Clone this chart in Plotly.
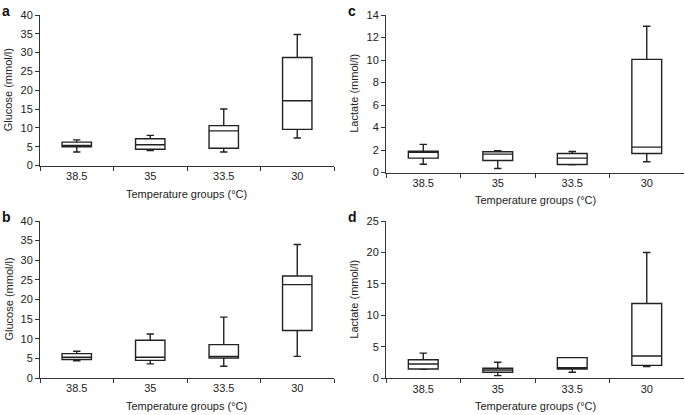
import plotly.graph_objects as go

W, H = 685, 415

groups = ["38.5", "35", "33.5", "30"]

# Panel a: Glucose
a_low = [3.6, 4.0, 3.6, 7.3]
a_q1 = [5.0, 4.3, 4.6, 9.6]
a_med = [5.3, 5.5, 9.2, 17.2]
a_q3 = [6.2, 7.1, 10.6, 28.7]
a_high = [6.8, 8.0, 15.0, 34.8]

# Panel b: Glucose
b_low = [4.4, 3.6, 3.0, 5.5]
b_q1 = [4.7, 4.5, 5.1, 12.1]
b_med = [5.3, 5.3, 5.5, 23.8]
b_q3 = [6.2, 9.6, 8.5, 26.0]
b_high = [6.8, 11.2, 15.5, 34.0]

# Panel c: Lactate
c_low = [0.74, 0.36, 0.68, 0.95]
c_q1 = [1.28, 1.07, 0.71, 1.69]
c_med = [1.8, 1.63, 1.28, 2.26]
c_q3 = [1.9, 1.84, 1.69, 10.06]
c_high = [2.5, 1.93, 1.87, 13.0]

# Panel d: Lactate
d_low = [1.43, 0.42, 0.95, 1.85]
d_q1 = [1.48, 0.95, 1.48, 2.06]
d_med = [2.27, 1.32, 1.69, 3.54]
d_q3 = [2.96, 1.59, 3.28, 11.9]
d_high = [4.0, 2.54, 3.28, 20.0]

FONT = "Liberation Sans, Arial, sans-serif"
TXT = "#222222"
LINE = "#333333"


def fx(px):
    return px / W


def fy(py):
    return 1 - py / H


# pixel boxes: (left, right, top, bottom)
panels = [
    ("a", (40, 334, 15, 165.5), (0, 40, 5), "Glucose (mmol/l)",
     (a_low, a_q1, a_med, a_q3, a_high)),
    ("b", (40, 334, 221, 378), (0, 40, 5), "Glucose (mmol/l)",
     (b_low, b_q1, b_med, b_q3, b_high)),
    ("c", (386, 684, 15, 172.5), (0, 14, 2), "Lactate (mmol/l)",
     (c_low, c_q1, c_med, c_q3, c_high)),
    ("d", (386, 684, 221, 378.3), (0, 25, 5), "Lactate (mmol/l)",
     (d_low, d_q1, d_med, d_q3, d_high)),
]

fig = go.Figure()
annotations = []
layout = {}

for i, (lab, (l, r, t, b), (ymin, ymax, dt), ytitle, stats) in enumerate(panels):
    n = "" if i == 0 else str(i + 1)
    xa, ya = "x" + n, "y" + n
    low, q1, med, q3, high = stats
    fig.add_trace(go.Box(
        x=groups, q1=q1, median=med, q3=q3,
        lowerfence=low, upperfence=high,
        xaxis=xa, yaxis=ya,
        fillcolor="white",
        line=dict(color="#222222", width=1.4),
        width=0.4, whiskerwidth=0.25,
        boxpoints=False, showlegend=False, hoverinfo="skip",
    ))
    layout["xaxis" + n] = dict(
        domain=[fx(l), fx(r)], anchor=ya, type="category",
        categoryorder="array", categoryarray=groups,
        range=[-0.5, 3.5], tickson="boundaries", automargin=False,
        ticks="outside", ticklen=4, tickcolor=LINE, tickwidth=1,
        showline=True, linecolor=LINE, linewidth=1,
        showgrid=False, zeroline=False,
        tickfont=dict(family=FONT, size=11, color=TXT),
    )
    layout["yaxis" + n] = dict(
        domain=[fy(b), fy(t)], anchor=xa, automargin=False,
        range=[ymin, ymax], dtick=dt, tick0=0,
        ticks="outside", ticklen=4, tickcolor=LINE, tickwidth=1,
        showline=True, linecolor=LINE, linewidth=1,
        showgrid=False, zeroline=False,
        tickfont=dict(family=FONT, size=11, color=TXT),
    )
    # x-axis title
    annotations.append(dict(
        text="Temperature groups (°C)", xref="paper", yref="paper",
        x=fx((l + r) / 2), y=fy(b + 28), xanchor="center", yanchor="middle",
        showarrow=False, font=dict(family=FONT, size=11, color=TXT)))
    # y-axis title
    annotations.append(dict(
        text=ytitle, xref="paper", yref="paper", textangle=-90,
        x=fx(l - 32), y=fy((t + b) / 2), xanchor="center", yanchor="middle",
        showarrow=False, font=dict(family=FONT, size=11, color=TXT)))
    # panel letter
    annotations.append(dict(
        text="<b>%s</b>" % lab, xref="paper", yref="paper",
        x=fx(l - 34), y=fy(t - 4), xanchor="center", yanchor="middle",
        showarrow=False, font=dict(family=FONT, size=14, color="#111111")))

# asterisk above the 30 °C box in panel a
annotations.append(dict(
    text="*", xref="x", yref="y", x="30", y=a_high[3] + 1.6,
    xanchor="center", yanchor="middle", showarrow=False,
    font=dict(family=FONT, size=10, color=TXT)))

fig.update_layout(
    width=W, height=H,
    margin=dict(l=0, r=0, t=0, b=0, autoexpand=False),
    paper_bgcolor="white", plot_bgcolor="white",
    annotations=annotations,
    **layout,
)

fig.write_html(
    "out.html",
    config={"displayModeBar": False},
    post_script="document.body.style.margin='0';document.body.style.overflow='hidden';",
)
